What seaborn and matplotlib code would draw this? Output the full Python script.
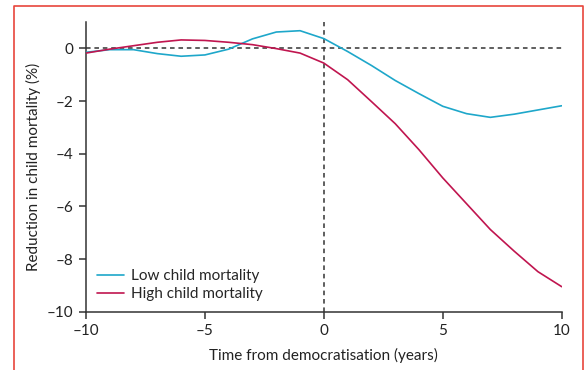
import numpy as np
import pandas as pd
import matplotlib
matplotlib.use("Agg")
import matplotlib.pyplot as plt
import seaborn as sns
from matplotlib.lines import Line2D

years = list(range(-10, 11))
low_mortality = [-0.15, -0.05, -0.05, -0.2, -0.3, -0.25, -0.03, 0.36, 0.62, 0.67, 0.37,
                 -0.12, -0.65, -1.22, -1.72, -2.2, -2.48, -2.62, -2.5, -2.34, -2.18]
high_mortality = [-0.18, -0.03, 0.1, 0.23, 0.32, 0.3, 0.23, 0.14, -0.01, -0.18, -0.56,
                  -1.19, -2.02, -2.86, -3.85, -4.92, -5.9, -6.88, -7.7, -8.48, -9.05]
series_names = ["Low child mortality", "High child mortality"]
series_colors = ["#1ea7ca", "#c0154f"]

df = pd.DataFrame({
    "year": years * 2,
    "value": low_mortality + high_mortality,
    "group": [series_names[0]] * len(years) + [series_names[1]] * len(years),
})

sns.set_style("white")
plt.rcParams["font.family"] = ["Lato", "DejaVu Sans"]
plt.rcParams["axes.unicode_minus"] = True

fig = plt.figure(figsize=(5.87, 3.70), dpi=100)
ax = fig.add_axes([0.1465, 0.1576, 0.9569 - 0.1465, 0.9405 - 0.1576])

dark = "#333333"
ax.axhline(0, color=dark, lw=1.1, ls=(0, (3, 2.5)), zorder=1)
ax.axvline(0, color=dark, lw=1.1, ls=(0, (3, 2.5)), zorder=1)

sns.lineplot(data=df, x="year", y="value", hue="group", hue_order=series_names,
             palette=series_colors, lw=1.2, ax=ax, zorder=3)

ax.set_xlim(-10, 10)
ax.set_ylim(-10, 1)
ax.set_xticks([-10, -5, 0, 5, 10])
ax.set_yticks([0, -2, -4, -6, -8, -10])
fmt = lambda v: str(v).replace("-", "\u2013")
ax.set_xticklabels([fmt(v) for v in [-10, -5, 0, 5, 10]])
ax.set_yticklabels([fmt(v) for v in [0, -2, -4, -6, -8, -10]])
ax.tick_params(axis="both", direction="out", length=5, width=1.1, color=dark,
               labelsize=11, labelcolor="#222222", pad=4, bottom=True, left=True)
for side in ["top", "right"]:
    ax.spines[side].set_visible(False)
for side in ["left", "bottom"]:
    ax.spines[side].set_color(dark)
    ax.spines[side].set_linewidth(1.1)

ax.set_xlabel("Time from democratisation (years)", fontsize=11, color="#222222", labelpad=7)
ax.set_ylabel("Reduction in child mortality (%)", fontsize=11, color="#222222", labelpad=4)

ax.legend(loc="lower left", frameon=False, fontsize=11, handlelength=1.8,
          handletextpad=0.45, labelspacing=0.25, borderaxespad=0.3, bbox_to_anchor=(0.0, 0.0))

# red frame around the figure (open at the bottom)
frame = "#e8463c"
fx0, fx1, fy1 = 13.5 / 587, 583 / 587, 1 - 6 / 370
fig.add_artist(Line2D([fx0, fx0, fx1, fx1], [0, fy1, fy1, 0], color=frame, lw=1.2))

fig.savefig("out.png", dpi=100)
